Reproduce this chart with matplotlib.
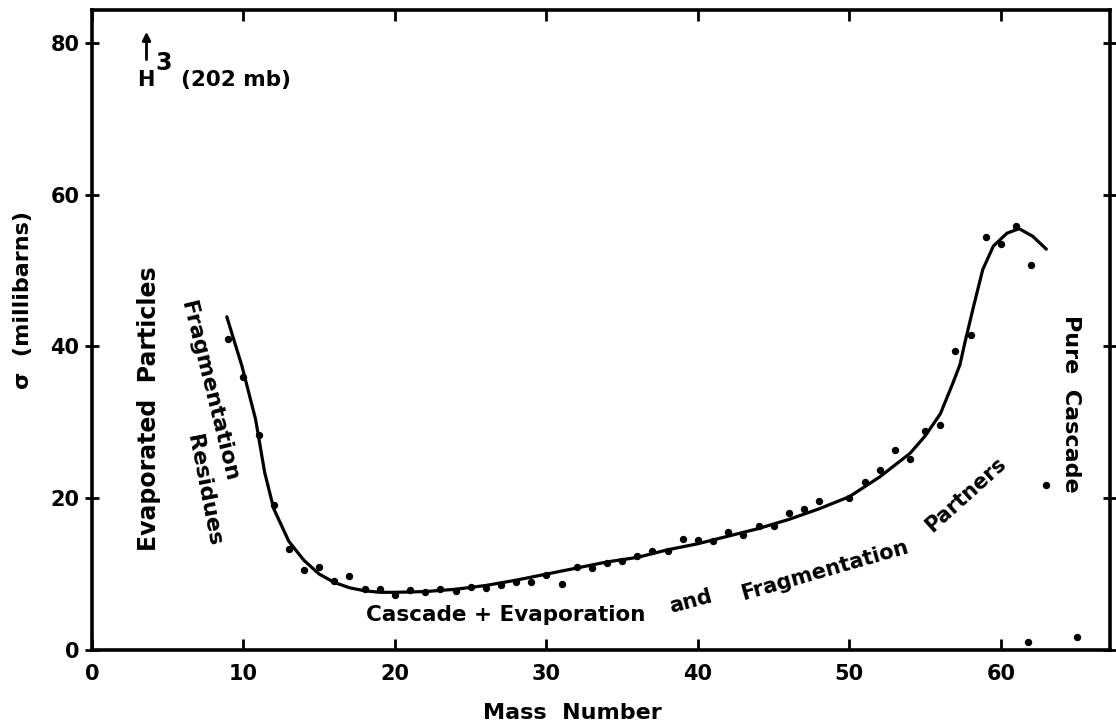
import numpy as np
import matplotlib.pyplot as plt

plt.rcParams['font.family'] = ['DejaVu Sans']
plt.rcParams['font.weight'] = 'bold'
plt.rcParams['axes.labelweight'] = 'bold'

# measured cross sections (mb) vs mass number
mass = [9, 10, 11, 12, 13, 14, 15, 16, 17, 18, 19, 20, 21, 22, 23, 24, 25, 26,
        27, 28, 29, 30, 31, 32, 33, 34, 35, 36, 37, 38, 39, 40, 41, 42, 43, 44,
        45, 46, 47, 48, 50, 51, 52, 53, 54, 55, 56, 57, 58, 59, 60, 61, 62, 63,
        61.8, 65]
sigma = [41.0, 35.9, 28.3, 19.1, 13.3, 10.5, 10.9, 9.1, 9.7, 8.1, 8.0, 7.2,
         7.9, 7.6, 8.0, 7.8, 8.3, 8.2, 8.5, 8.9, 8.9, 9.9, 8.7, 10.9, 10.8,
         11.4, 11.7, 12.4, 13.0, 13.0, 14.6, 14.5, 14.4, 15.5, 15.1, 16.4,
         16.4, 18.0, 18.6, 19.6, 20.0, 22.1, 23.7, 26.3, 25.1, 28.9, 29.6,
         39.4, 41.5, 54.4, 53.5, 55.9, 50.7, 21.8, 1.1, 1.7]

# hand-drawn smooth curve through the data
curve_a = [8.9, 9.9, 10.8, 11.4, 12.0, 13.0, 14.0, 15.0, 16.0, 17.0, 18.0,
           19.0, 20, 22, 24, 26, 28, 30, 32, 34, 36, 38, 40, 42, 44, 46, 48,
           50, 52, 54, 55, 56, 56.8, 57.3, 57.6, 58.2, 58.8, 59.5, 60.4, 61.2,
           62.1, 63.0]
curve_s = [43.9, 37.4, 30.4, 23.4, 18.6, 14.3, 11.8, 10.0, 8.9, 8.2, 7.8,
           7.6, 7.6, 7.7, 8.0, 8.5, 9.2, 10.0, 10.8, 11.6, 12.2, 13.2, 14.0,
           15.0, 16.0, 17.2, 18.6, 20.2, 22.8, 25.9, 28.2, 31.1, 35.0, 37.6,
           40.3, 45.3, 50.1, 53.2, 54.9, 55.5, 54.5, 52.8]

xticks = [0, 10, 20, 30, 40, 50, 60]
yticks = [0, 20, 40, 60, 80]

fig = plt.figure(figsize=(11.16, 7.27), dpi=100)
ax = fig.add_axes([0.0824, 0.1059, 0.9122, 0.8803])

ax.plot(curve_a, curve_s, color='black', lw=2.3, solid_capstyle='round')
ax.plot(mass, sigma, 'o', color='black', ms=4.3)

ax.set_xlim(0, 67.2)
ax.set_ylim(0, 84.3)
ax.set_xticks(xticks)
ax.set_yticks(yticks)
for s in ax.spines.values():
    s.set_linewidth(2.6)
ax.tick_params(axis='x', direction='in', length=8, width=2, top=True,
               labelsize=15, pad=10)
ax.tick_params(axis='y', direction='inout', length=10, width=2, right=True,
               labelsize=15, pad=4)

ax.set_xlabel('Mass  Number', fontsize=16)
ax.xaxis.set_label_coords(0.472, -0.083)
ax.set_ylabel('σ  (millibarns)', fontsize=16)
ax.yaxis.set_label_coords(-0.058, 0.547)

# region labels
ax.text(3.75, 31.8, 'Evaporated  Particles', rotation=90, fontsize=17,
        ha='center', va='center')
ax.text(7.7, 34.1, 'Fragmentation', rotation=-76, fontsize=16,
        ha='center', va='center', rotation_mode='anchor')
ax.text(7.4, 21.0, 'Residues', rotation=-79, fontsize=16,
        ha='center', va='center', rotation_mode='anchor')
ax.text(27.3, 4.6, 'Cascade + Evaporation', fontsize=15.5,
        ha='center', va='center')
ax.text(39.5, 6.4, 'and', rotation=15, fontsize=15,
        ha='center', va='center', rotation_mode='anchor')
ax.text(48.4, 10.5, 'Fragmentation', rotation=16, fontsize=15,
        ha='center', va='center', rotation_mode='anchor')
ax.text(57.7, 20.4, 'Partners', rotation=42, fontsize=15,
        ha='center', va='center', rotation_mode='anchor')
ax.text(64.6, 32.4, 'Pure  Cascade', rotation=-90, fontsize=16,
        ha='center', va='center')

# off-scale H3 value
ax.annotate('', xy=(3.6, 81.8), xytext=(3.6, 77.4),
            arrowprops=dict(arrowstyle='-|>', color='black', lw=2,
                            mutation_scale=12))
ax.text(3.0, 74.3, 'H', fontsize=15, ha='left', va='baseline')
ax.text(4.2, 76.4, '3', fontsize=17, ha='left', va='baseline')
ax.text(5.9, 74.3, '(202 mb)', fontsize=15.5, ha='left', va='baseline')

fig.savefig('out.png', dpi=100)
